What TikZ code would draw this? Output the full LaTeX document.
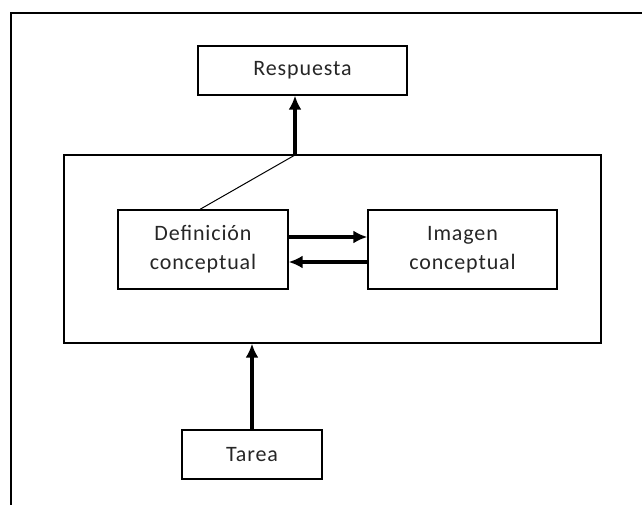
\documentclass[tikz,border=0pt]{standalone}
\usepackage{fontspec}
\setmainfont{Carlito}[LetterSpace=4]
\usetikzlibrary{arrows.meta}
\begin{document}
\begin{tikzpicture}[x=1pt,y=-1pt,
  box/.style={draw, line width=1.3pt, inner sep=0pt, align=center,
    font=\fontsize{22}{29}\selectfont, text=black!85},
  arr/.style={line width=3.3pt, -{Latex[length=14pt,width=13pt]}},
  thin/.style={line width=1pt}]
\useasboundingbox (0,0) rectangle (642,505);
\draw[line width=1.3pt] (11,505) -- (11,13) -- (642,13);
\node[box, minimum width=209pt, minimum height=49pt] (resp) at (302.5,70.5) {Respuesta};
\node[box, minimum width=537pt, minimum height=188pt] (big) at (332.5,249) {};
\node[box, minimum width=170pt, minimum height=79pt] (def) at (203,249.5) {Definición\\conceptual};
\node[box, minimum width=189pt, minimum height=79pt] (img) at (462.5,249.5) {Imagen\\conceptual};
\node[box, minimum width=140pt, minimum height=49pt] (tarea) at (252,454.5) {Tarea};
\coordinate (j) at (295,155);
\draw[arr] (j) -- (j |- resp.south);
\draw[thin] (j) -- ([xshift=-3pt]def.north);
\draw[arr] ([yshift=12.5pt]def.east) -- ([yshift=12.5pt]img.west);
\draw[arr] ([yshift=-12.5pt]img.west) -- ([yshift=-12.5pt]def.east);
\draw[arr] (tarea.north) -- (tarea.north |- big.south);
\end{tikzpicture}
\end{document}
